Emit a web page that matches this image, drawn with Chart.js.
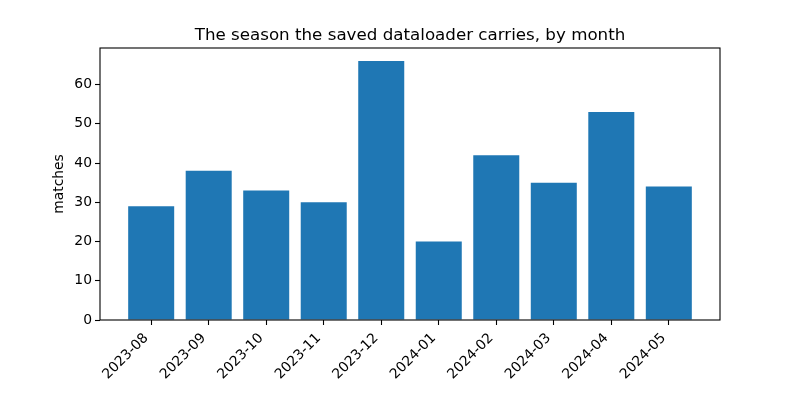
<!DOCTYPE html>
<html>
<head>
<meta charset="utf-8">
<script src="https://cdn.jsdelivr.net/npm/chart.js@4/dist/chart.umd.min.js"></script>
<style>
  html, body { margin: 0; padding: 0; background: #fff; }
  #wrap { width: 800px; height: 400px; }
</style>
</head>
<body>
<div id="wrap"><canvas id="mycanvas"></canvas></div>
<script>
var months = ['2023-08', '2023-09', '2023-10', '2023-11', '2023-12',
              '2024-01', '2024-02', '2024-03', '2024-04', '2024-05'];
var matches = [29, 38, 33, 30, 66, 20, 42, 35, 53, 34];
var yTicks = [0, 10, 20, 30, 40, 50, 60];

var titleText = 'The season the saved dataloader carries, by month';
var yLabel = 'matches';
var font = 'DejaVu Sans';

// bars sit on a linear x scale so the matplotlib-like margins can be kept
var points = [];
for (var i = 0; i < matches.length; i++) {
	points.push({ x: i, y: matches[i] });
}

var frame = {
	id: 'frame',
	afterDraw: function(chart) {
		var c = chart.ctx, a = chart.chartArea;
		c.save();
		c.strokeStyle = '#000';
		c.lineWidth = 1.1;
		c.strokeRect(a.left, a.top, a.right - a.left, a.bottom - a.top);
		c.fillStyle = '#000';
		c.textAlign = 'center';
		c.textBaseline = 'alphabetic';
		c.font = '16.7px "' + font + '"';
		c.fillText(titleText, (a.left + a.right) / 2, 40);
		c.translate(66, (a.top + a.bottom) / 2);
		c.rotate(-Math.PI / 2);
		c.font = '13.9px "' + font + '"';
		c.textBaseline = 'bottom';
		c.fillText(yLabel, 0, 0);
		c.restore();
	}
};

var ctx = document.getElementById('mycanvas');
var chart = new Chart(ctx, {
	type: 'bar',
	data: {
		datasets: [{
			data: points,
			backgroundColor: '#1f77b4',
			borderWidth: 0,
			barPercentage: 0.8,
			categoryPercentage: 1.0
		}]
	},
	options: {
		responsive: true,
		maintainAspectRatio: false,
		animation: false,
		layout: { padding: { top: 48, right: 80, left: 0, bottom: 0 } },
		plugins: {
			legend: { display: false },
			title: { display: false },
			tooltip: { enabled: false }
		},
		scales: {
			x: {
				type: 'linear',
				offset: false,
				min: -0.89,
				max: 9.89,
				afterBuildTicks: function(axis) {
					axis.ticks = months.map(function(m, i) { return { value: i }; });
				},
				afterFit: function(axis) { axis.height = 80; },
				grid: {
					offset: false,
					drawOnChartArea: false,
					drawTicks: true,
					tickLength: 5,
					tickColor: '#000',
					tickWidth: 1.1
				},
				border: { display: false },
				ticks: {
					autoSkip: false,
					minRotation: 45,
					maxRotation: 45,
					padding: 5,
					labelOffset: -5,
					color: '#000',
					font: { family: font, size: 13.9 },
					callback: function(v) { return months[v]; }
				}
			},
			y: {
				min: 0,
				max: 69.3,
				afterBuildTicks: function(axis) {
					axis.ticks = yTicks.map(function(v) { return { value: v }; });
				},
				afterFit: function(axis) { axis.width = 100; },
				grid: {
					drawOnChartArea: false,
					drawTicks: true,
					tickLength: 5,
					tickColor: '#000',
					tickWidth: 1.1
				},
				border: { display: false },
				ticks: {
					padding: 3,
					color: '#000',
					font: { family: font, size: 13.9 }
				}
			}
		}
	},
	plugins: [frame]
});
</script>
</body>
</html>
